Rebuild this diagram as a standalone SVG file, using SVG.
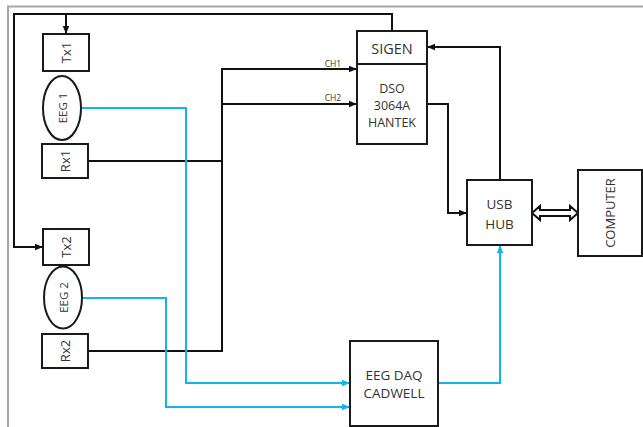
<svg xmlns="http://www.w3.org/2000/svg" width="643" height="427" viewBox="0 0 643 427">
<defs>
<style>
.box{fill:#fff;stroke:#1a1a1a;stroke-width:2}
.t{font-family:"Open Sans","Liberation Sans",sans-serif;fill:#333;text-anchor:middle;dominant-baseline:central}
.blk{fill:none;stroke:#111;stroke-width:2}
.blu{fill:none;stroke:#12b4ef;stroke-width:2}
</style>
<marker id="ak" viewBox="0 0 10 10" refX="10" refY="5" markerWidth="8" markerHeight="8" orient="auto" markerUnits="userSpaceOnUse"><path d="M0,1 L10,5 L0,9 z" fill="#111"/></marker>
<marker id="ac" viewBox="0 0 10 10" refX="10" refY="5" markerWidth="8" markerHeight="8" orient="auto" markerUnits="userSpaceOnUse"><path d="M0,1 L10,5 L0,9 z" fill="#12b4ef"/></marker>
</defs>
<rect width="643" height="427" fill="#fff"/>
<path d="M8,427 V6.5 H643" fill="none" stroke="#a6a6a6" stroke-width="2"/>
<g id="connectors">
<path class="blk" d="M392,31 V14 H14 V247 H43" marker-end="url(#ak)"/>
<path class="blk" d="M66,14 V34" marker-end="url(#ak)"/>
<path class="blk" d="M88,161 H222"/>
<path class="blk" d="M88,351 H222 V69 H357" marker-end="url(#ak)"/>
<path class="blk" d="M222,104 H357" marker-end="url(#ak)"/>
<text class="t" x="333" y="63" font-size="8.5">CH1</text>
<text class="t" x="333" y="97" font-size="8.5">CH2</text>
<path class="blk" d="M500,180 V47 H427" marker-end="url(#ak)"/>
<path class="blk" d="M427,104 H448 V213 H467" marker-end="url(#ak)"/>
<path d="M532,213 L540,206 V210 H570 V206 L578,213 L570,220 V216 H540 V220 Z" fill="#fff" stroke="#111" stroke-width="2" stroke-linejoin="miter"/>
<path class="blu" d="M81,108 H186 V383 H350" marker-end="url(#ac)"/>
<path class="blu" d="M82,298 H166 V407 H350" marker-end="url(#ac)"/>
<path class="blu" d="M438,383 H500 V245" marker-end="url(#ac)"/>
</g>
<g id="tx1"><rect class="box" x="43" y="34" width="46" height="37"/><text class="t" font-size="13" transform="translate(66,52.5) rotate(-90)">Tx1</text></g>
<g id="eeg1"><ellipse class="box" cx="62" cy="108" rx="19" ry="32"/><text class="t" font-size="11.5" transform="translate(62,108) rotate(-90)">EEG 1</text></g>
<g id="rx1"><rect class="box" x="42" y="144" width="46" height="34"/><text class="t" font-size="13" transform="translate(65,161) rotate(-90)">Rx1</text></g>
<g id="tx2"><rect class="box" x="43" y="229" width="46" height="36"/><text class="t" font-size="13" transform="translate(66,247) rotate(-90)">Tx2</text></g>
<g id="eeg2"><ellipse class="box" cx="63" cy="297.5" rx="19" ry="31"/><text class="t" font-size="11.5" transform="translate(63,297.5) rotate(-90)">EEG 2</text></g>
<g id="rx2"><rect class="box" x="42" y="334" width="46" height="34"/><text class="t" font-size="13" transform="translate(65,351) rotate(-90)">Rx2</text></g>
<g id="sigen-dso"><rect class="box" x="357" y="31" width="70" height="113"/><line x1="357" y1="64" x2="427" y2="64" stroke="#1a1a1a" stroke-width="2"/>
<text class="t" x="392" y="48" font-size="14.5">SIGEN</text>
<text class="t" x="392" y="88" font-size="12.5">DSO</text>
<text class="t" x="392" y="105.5" font-size="12.5">3064A</text>
<text class="t" x="392" y="122" font-size="12.5">HANTEK</text></g>
<g id="usbhub"><rect class="box" x="467" y="180" width="65" height="65"/><text class="t" x="499.5" y="204" font-size="13.5">USB</text><text class="t" x="499.5" y="224" font-size="13.5">HUB</text></g>
<g id="computer"><rect class="box" x="578" y="170" width="64" height="86"/><text class="t" font-size="13" transform="translate(610,213) rotate(-90)">COMPUTER</text></g>
<g id="eegdaq"><rect class="box" x="350" y="341" width="88" height="85"/><text class="t" x="394" y="375" font-size="13.5">EEG DAQ</text><text class="t" x="394" y="393" font-size="13.5">CADWELL</text></g>
</svg>
